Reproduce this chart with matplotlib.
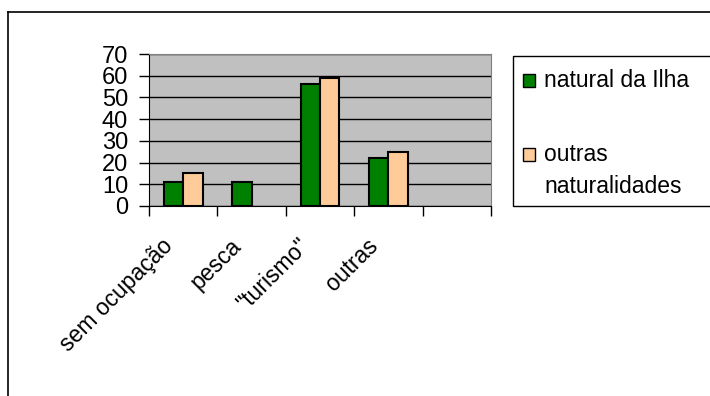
import matplotlib
matplotlib.use("Agg")
import matplotlib.pyplot as plt
import matplotlib.transforms as mtransforms
from matplotlib.patches import Rectangle
from matplotlib.lines import Line2D
import numpy as np

plt.rcParams['font.family'] = ['Liberation Sans', 'DejaVu Sans']

categories = ["sem ocupação", "pesca", "\"turismo\"", "outras", ""]
natural_da_ilha = [11, 11, 56, 22, 0]
outras_naturalidades = [15, 0, 59, 25, 0]
series_labels = ["natural da Ilha", "outras\nnaturalidades"]
colors = ["#008000", "#FFCC99"]

fig = plt.figure(figsize=(7.10, 3.96), dpi=100)
ax = fig.add_axes([149 / 710, 1 - 206 / 396, 342 / 710, 152 / 396])
ax.set_facecolor("#C0C0C0")

x = np.arange(len(categories))
w = 0.285
for i in range(len(categories)):
    if natural_da_ilha[i] > 0:
        ax.bar(x[i] - w / 2, natural_da_ilha[i], w, color=colors[0],
               edgecolor="black", linewidth=1.5, zorder=3)
    if outras_naturalidades[i] > 0:
        ax.bar(x[i] + w / 2, outras_naturalidades[i], w, color=colors[1],
               edgecolor="black", linewidth=1.5, zorder=3)

ax.set_xlim(-0.5, len(categories) - 0.5)
ax.set_ylim(0, 70)
ax.set_yticks(np.arange(0, 71, 10))
ax.yaxis.grid(True, color="black", linewidth=1)
ax.set_axisbelow(True)
ax.tick_params(axis="y", labelsize=17, length=7, width=1, pad=8)

ax.set_xticks(x)
ax.set_xticks(np.arange(-0.5, len(categories), 1), minor=True)
ax.tick_params(axis="x", which="major", length=0, pad=26)
ax.tick_params(axis="x", which="minor", length=7, width=1)
labels = ax.set_xticklabels(categories, rotation=45, ha="right",
                            va="center", rotation_mode="anchor", fontsize=16.5)
offset = mtransforms.ScaledTranslation(-14 / 100, 0, fig.dpi_scale_trans)
for lab in labels:
    lab.set_transform(lab.get_transform() + offset)

for s in ["top", "right"]:
    ax.spines[s].set_color("#808080")
for s in ["left", "bottom"]:
    ax.spines[s].set_color("black")

# legend drawn by hand so the square sits by the first line of each label
fig.patches.append(Rectangle((513 / 710, 1 - 206 / 396), 200 / 710, 150 / 396,
                             transform=fig.transFigure, facecolor="white",
                             edgecolor="black", linewidth=1))
baselines = [87, 161]
for lab, col, yb in zip(series_labels, colors, baselines):
    fig.patches.append(Rectangle((523 / 710, 1 - yb / 396), 12 / 710, 13 / 396,
                                 transform=fig.transFigure, facecolor=col,
                                 edgecolor="black", linewidth=1))
    for k, line in enumerate(lab.split("\n")):
        fig.text(544 / 710, 1 - (yb + 32 * k) / 396, line, fontsize=16.5,
                 va="baseline", ha="left")

# outer chart frame
fig.add_artist(Line2D([8 / 710, 8 / 710], [0, 1 - 12 / 396], color="black",
                      linewidth=1.2, transform=fig.transFigure))
fig.add_artist(Line2D([8 / 710, 1], [1 - 12 / 396, 1 - 12 / 396], color="black",
                      linewidth=1.2, transform=fig.transFigure))

fig.savefig("out.png", dpi=100)
